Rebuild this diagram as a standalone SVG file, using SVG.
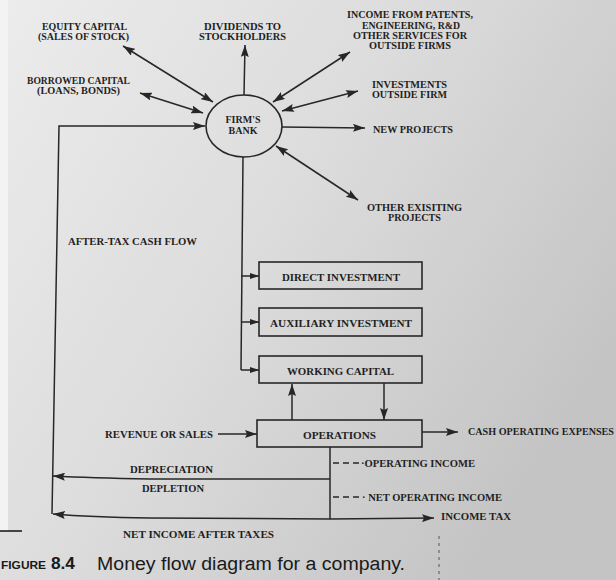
<svg xmlns="http://www.w3.org/2000/svg" width="616" height="580" viewBox="0 0 616 580">
<defs>
<linearGradient id="bg" x1="0" y1="0" x2="1" y2="0.6">
<stop offset="0" stop-color="#ececec"/>
<stop offset="0.5" stop-color="#dcdcdc"/>
<stop offset="1" stop-color="#c4c4c4"/>
</linearGradient>
<marker id="ah" viewBox="0 0 12 8" refX="12" refY="4" markerWidth="12" markerHeight="8" markerUnits="userSpaceOnUse" orient="auto-start-reverse">
<path d="M0,0 L12,4 L0,8 L2,4 z" fill="#262626"/>
</marker>
<marker id="as" viewBox="0 0 9 6" refX="9" refY="3" markerWidth="9" markerHeight="6" markerUnits="userSpaceOnUse" orient="auto-start-reverse">
<path d="M0,0 L9,3 L0,6 z" fill="#262626"/>
</marker>
<style>
.t{font-family:"Liberation Serif","Times New Roman",serif;font-weight:bold;fill:#1f1f1f;font-size:10px}
.b{font-size:11px}
.c{fill:none;stroke:#272727;stroke-width:1.5}
.box{fill:none;stroke:#272727;stroke-width:1.6}
.d{stroke:#272727;stroke-width:1.5;stroke-dasharray:6,4;fill:none}
</style>
</defs>
<rect width="616" height="580" fill="url(#bg)"/>
<rect x="0" y="0" width="8" height="531" fill="#f3f3f3"/>
<line x1="0" y1="531" x2="22" y2="531" stroke="#111" stroke-width="1.5"/>
<line x1="439" y1="536" x2="439" y2="580" stroke="#555" stroke-width="1" stroke-dasharray="3,4"/>

<g id="connectors">
<line class="c" x1="123" y1="46" x2="213" y2="102" marker-start="url(#ah)" marker-end="url(#ah)"/>
<line class="c" x1="140" y1="93" x2="203" y2="113" marker-start="url(#ah)" marker-end="url(#ah)"/>
<line class="c" x1="244" y1="95" x2="245" y2="45" marker-end="url(#ah)"/>
<line class="c" x1="273" y1="102" x2="350" y2="52" marker-start="url(#ah)" marker-end="url(#ah)"/>
<line class="c" x1="282" y1="111" x2="358" y2="91" marker-start="url(#ah)" marker-end="url(#ah)"/>
<line class="c" x1="282" y1="127" x2="365" y2="128" marker-end="url(#ah)"/>
<line class="c" x1="276" y1="146" x2="358" y2="200" marker-start="url(#ah)" marker-end="url(#ah)"/>
<polyline class="c" points="52,514 59,126 205,126" marker-end="url(#ah)"/>
<line class="c" x1="243" y1="157" x2="241" y2="370"/>
<line class="c" x1="241" y1="276" x2="259" y2="276" marker-end="url(#as)"/>
<line class="c" x1="241" y1="322" x2="259" y2="322" marker-end="url(#as)"/>
<line class="c" x1="241" y1="370" x2="259" y2="370" marker-end="url(#as)"/>
<line class="c" x1="292" y1="420" x2="292" y2="384" marker-end="url(#ah)"/>
<line class="c" x1="384" y1="383" x2="384" y2="420" marker-end="url(#ah)"/>
<line class="c" x1="218" y1="434" x2="257" y2="434" marker-end="url(#ah)"/>
<line class="c" x1="422" y1="432" x2="458" y2="432" marker-end="url(#ah)"/>
<line class="c" x1="330" y1="447" x2="330" y2="519"/>
<path class="c" d="M330,479 L150,479 Q90,478 53,476" marker-end="url(#ah)"/>
<path class="c" d="M434,518 L330,519 L150,518 Q90,517 53,514" marker-start="url(#ah)" marker-end="url(#ah)"/>
<line class="d" x1="333" y1="463" x2="359" y2="463"/>
<line class="d" x1="333" y1="497" x2="359" y2="497"/>
</g>

<g id="bank">
<ellipse cx="244" cy="126" rx="38" ry="31" fill="none" stroke="#272727" stroke-width="1.6"/>
<text class="t" x="243" y="123" text-anchor="middle" font-size="9">FIRM'S</text>
<text class="t" x="243" y="134" text-anchor="middle" font-size="9">BANK</text>
</g>
<g id="equity">
<text class="t" x="42" y="30" textLength="85" lengthAdjust="spacingAndGlyphs">EQUITY CAPITAL</text>
<text class="t" x="38" y="40" textLength="91" lengthAdjust="spacingAndGlyphs">(SALES OF STOCK)</text>
</g>
<g id="borrowed">
<text class="t" x="27" y="84" textLength="103" lengthAdjust="spacingAndGlyphs">BORROWED CAPITAL</text>
<text class="t" x="37" y="94" textLength="83" lengthAdjust="spacingAndGlyphs">(LOANS, BONDS)</text>
</g>
<g id="dividends">
<text class="t" x="204" y="30" textLength="77" lengthAdjust="spacingAndGlyphs">DIVIDENDS TO</text>
<text class="t" x="199" y="40" textLength="87" lengthAdjust="spacingAndGlyphs">STOCKHOLDERS</text>
</g>
<g id="income-patents">
<text class="t" x="347" y="18" textLength="126" lengthAdjust="spacingAndGlyphs">INCOME FROM PATENTS,</text>
<text class="t" x="362" y="29" textLength="98" lengthAdjust="spacingAndGlyphs">ENGINEERING, R&amp;D</text>
<text class="t" x="353" y="39" textLength="114" lengthAdjust="spacingAndGlyphs">OTHER SERVICES FOR</text>
<text class="t" x="369" y="49" textLength="82" lengthAdjust="spacingAndGlyphs">OUTSIDE FIRMS</text>
</g>
<g id="investments">
<text class="t" x="372" y="88" textLength="75" lengthAdjust="spacingAndGlyphs">INVESTMENTS</text>
<text class="t" x="372" y="98" textLength="75" lengthAdjust="spacingAndGlyphs">OUTSIDE FIRM</text>
</g>
<g id="new-projects">
<text class="t" x="373" y="133" textLength="80" lengthAdjust="spacingAndGlyphs">NEW PROJECTS</text>
</g>
<g id="other-projects">
<text class="t" x="367" y="211" textLength="95" lengthAdjust="spacingAndGlyphs">OTHER EXISITING</text>
<text class="t" x="388" y="221" textLength="53" lengthAdjust="spacingAndGlyphs">PROJECTS</text>
</g>
<g id="after-tax">
<text class="t" x="68" y="245" textLength="129" lengthAdjust="spacingAndGlyphs">AFTER-TAX CASH FLOW</text>
</g>
<g id="direct">
<rect class="box" x="259" y="262" width="163" height="27"/>
<text class="t b" x="282" y="281" textLength="118" lengthAdjust="spacingAndGlyphs">DIRECT INVESTMENT</text>
</g>
<g id="auxiliary">
<rect class="box" x="259" y="308" width="163" height="28"/>
<text class="t b" x="270" y="327" textLength="142" lengthAdjust="spacingAndGlyphs">AUXILIARY INVESTMENT</text>
</g>
<g id="working">
<rect class="box" x="259" y="356" width="163" height="27"/>
<text class="t b" x="287" y="375" textLength="107" lengthAdjust="spacingAndGlyphs">WORKING CAPITAL</text>
</g>
<g id="operations">
<rect class="box" x="257" y="420" width="165" height="27"/>
<text class="t b" x="303" y="439" textLength="73" lengthAdjust="spacingAndGlyphs">OPERATIONS</text>
</g>
<g id="revenue">
<text class="t" x="105" y="438" textLength="108" lengthAdjust="spacingAndGlyphs">REVENUE OR SALES</text>
</g>
<g id="cash-expenses">
<text class="t" x="468" y="435" textLength="146" lengthAdjust="spacingAndGlyphs">CASH OPERATING EXPENSES</text>
</g>
<g id="operating-income">
<text class="t" x="361" y="467" textLength="114" lengthAdjust="spacingAndGlyphs">·OPERATING INCOME</text>
</g>
<g id="net-operating-income">
<text class="t" x="362" y="501" textLength="140" lengthAdjust="spacingAndGlyphs">· NET OPERATING INCOME</text>
</g>
<g id="income-tax">
<text class="t" x="441" y="520" textLength="70" lengthAdjust="spacingAndGlyphs">INCOME TAX</text>
</g>
<g id="depreciation">
<text class="t" x="130" y="473" textLength="83" lengthAdjust="spacingAndGlyphs">DEPRECIATION</text>
<text class="t" x="142" y="492" textLength="62" lengthAdjust="spacingAndGlyphs">DEPLETION</text>
</g>
<g id="net-income">
<text class="t" x="123" y="538" textLength="151" lengthAdjust="spacingAndGlyphs">NET INCOME AFTER TAXES</text>
</g>
<g id="caption">
<text x="1" y="569" font-family="'Liberation Sans',Arial,sans-serif" font-weight="bold" fill="#1a1a1a" textLength="74" lengthAdjust="spacingAndGlyphs"><tspan font-size="11">FIGURE</tspan><tspan font-size="16"> 8.4</tspan></text>
<text x="97" y="570" font-family="'Liberation Sans',Arial,sans-serif" font-size="18" fill="#1a1a1a" textLength="308" lengthAdjust="spacingAndGlyphs">Money flow diagram for a company.</text>
</g>
</svg>
